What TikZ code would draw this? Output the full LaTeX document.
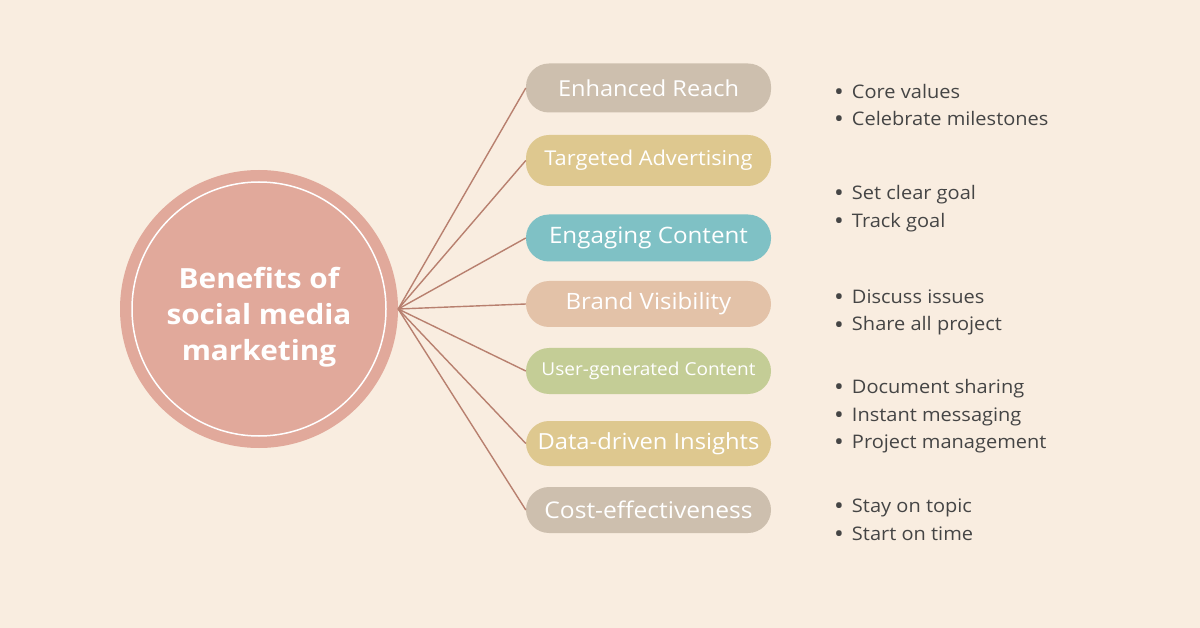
\documentclass[tikz,border=0pt]{standalone}
\usepackage{fontspec}
\setmainfont{Open Sans}[FakeStretch=1.07]
\usetikzlibrary{positioning}
\definecolor{bg}{HTML}{F9EDE0}
\definecolor{hubc}{HTML}{E1A99B}
\definecolor{linec}{HTML}{B8806F}
\definecolor{pgray}{HTML}{CDBFAE}
\definecolor{pgold}{HTML}{DEC88F}
\definecolor{pteal}{HTML}{7FC1C5}
\definecolor{ppeach}{HTML}{E3C2A8}
\definecolor{pgreen}{HTML}{C4CD96}
\definecolor{txt}{HTML}{454545}
\newcommand{\bdot}{\raisebox{-2pt}{\scalebox{1.3}{•}}\hspace{8pt}}
\tikzset{
  pill/.style={rectangle, rounded corners=23pt, minimum width=245pt, minimum height=47pt, inner sep=0pt, text=white},
  conn/.style={draw=linec, line width=1.4pt},
  bul/.style={anchor=west, text=txt, inner sep=0pt, text height=13.5pt, text depth=4.5pt, font=\fontsize{18.7}{22}\selectfont},
}
\begin{document}
\begin{tikzpicture}[x=1pt,y=-1pt]
\useasboundingbox (0,0) rectangle (1200,628);
\fill[bg] (0,0) rectangle (1200,628);
% hub
\node[circle, fill=hubc, minimum size=278pt, inner sep=0pt] (hub) at (259,309) {};
\node[circle, draw=white, line width=1.5pt, minimum size=254pt, inner sep=0pt] (hubin) at (259,309) {};
\node[text=white, align=center, font=\bfseries\fontsize{27.8}{36}\selectfont] (hubtxt) at (259,317) {Benefits of\\social media\\marketing};
% pills
\node[pill, fill=pgray, minimum height=49pt, font=\fontsize{22}{24}\selectfont] (p1) at (648.5,88) {Enhanced Reach};
\node[pill, fill=pgold, minimum height=51pt, font=\fontsize{20.4}{22}\selectfont] (p2) at (648.5,160.5) {Targeted Advertising};
\node[pill, fill=pteal, minimum height=47pt, font=\fontsize{22.6}{24}\selectfont] (p3) at (648.5,238) {Engaging Content};
\node[pill, fill=ppeach, minimum height=46pt, font=\fontsize{22.5}{24}\selectfont] (p4) at (648.5,304) {Brand Visibility};
\node[pill, fill=pgreen, minimum height=46pt, font=\fontsize{17.8}{20}\selectfont] (p5) at (648.5,371) {User-generated Content};
\node[pill, fill=pgold, minimum height=45pt, font=\fontsize{22.2}{24}\selectfont] (p6) at (648.5,443.5) {Data-driven Insights};
\node[pill, fill=pgray, minimum height=46pt, font=\fontsize{23}{24}\selectfont] (p7) at (648.5,510) {Cost-effectiveness};
% connectors
\foreach \p in {p1,p2,p3,p4,p5,p6,p7} \draw[conn] (hub.east) -- (\p.west);
% bullets
\node[bul] (b1) at (834,94) {\bdot Core values};
\node[bul] (b2) at (834,121.5) {\bdot Celebrate milestones};
\node[bul] (b3) at (834,195.5) {\bdot Set clear goal};
\node[bul] (b4) at (834,223.5) {\bdot Track goal};
\node[bul] (b5) at (834,299) {\bdot Discuss issues};
\node[bul] (b6) at (834,326.5) {\bdot Share all project};
\node[bul] (b7) at (834,389) {\bdot Document sharing};
\node[bul] (b8) at (834,416.5) {\bdot Instant messaging};
\node[bul] (b9) at (834,444) {\bdot Project management};
\node[bul] (b10) at (834,508) {\bdot Stay on topic};
\node[bul] (b11) at (834,535.5) {\bdot Start on time};
\end{tikzpicture}
\end{document}
